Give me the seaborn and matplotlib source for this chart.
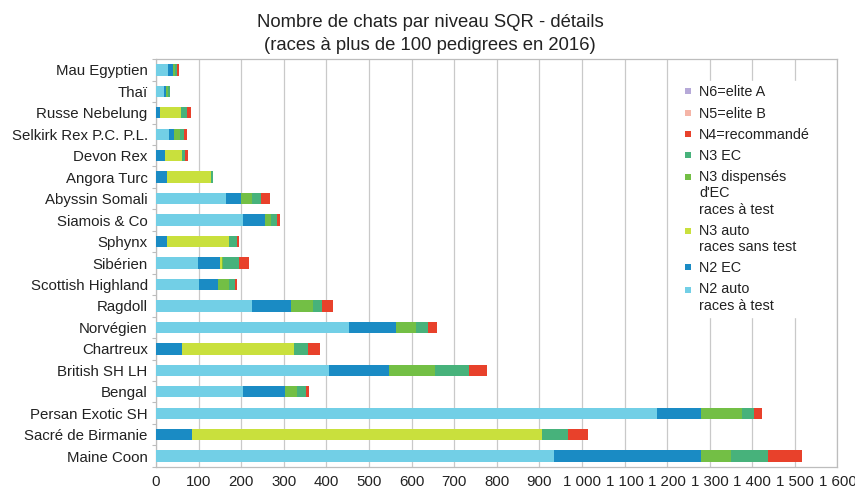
import numpy as np
import pandas as pd
import matplotlib
matplotlib.use("Agg")
import matplotlib.pyplot as plt
from matplotlib.lines import Line2D
from matplotlib.legend_handler import HandlerLine2D
from matplotlib.ticker import FuncFormatter, MultipleLocator, FixedLocator
import seaborn as sns

breeds = ["Mau Egyptien", "Thaï", "Russe Nebelung", "Selkirk Rex P.C. P.L.", "Devon Rex",
          "Angora Turc", "Abyssin Somali", "Siamois & Co", "Sphynx", "Sibérien",
          "Scottish Highland", "Ragdoll", "Norvégien", "Chartreux", "British SH LH",
          "Bengal", "Persan Exotic SH", "Sacré de Birmanie", "Maine Coon"]

n2_auto = [28, 19, 0, 30, 0, 0, 164, 204, 0, 98, 101, 225, 453, 0, 406, 204, 1176, 0, 934]
n2_ec = [12, 5, 10, 12, 21, 25, 35, 51, 25, 53, 44, 92, 110, 61, 140, 99, 103, 85, 345]
n3_auto = [0, 0, 49, 0, 40, 105, 0, 0, 146, 3, 0, 0, 0, 262, 0, 0, 0, 821, 0]
n3_disp = [5, 5, 0, 14, 0, 0, 26, 16, 0, 4, 26, 52, 48, 0, 108, 27, 97, 0, 71]
n3_ec = [4, 4, 14, 9, 7, 3, 21, 12, 18, 36, 14, 20, 27, 34, 82, 23, 28, 61, 87]
n4 = [5, 0, 10, 7, 7, 1, 21, 7, 6, 25, 5, 27, 21, 27, 42, 5, 19, 47, 79]
n5 = [0] * 19
n6 = [0] * 19

series_labels = ["N2 auto\nraces à test", "N2 EC", "N3 auto\nraces sans test",
                 "N3 dispensés\nd'EC\nraces à test", "N3 EC", "N4=recommandé",
                 "N5=elite B", "N6=elite A"]
series_values = [n2_auto, n2_ec, n3_auto, n3_disp, n3_ec, n4, n5, n6]
colors = ["#72cfe6", "#1a8bc4", "#c9e03d", "#73bf45", "#47b27b", "#e8412b", "#f5b5a7", "#b6a9d8"]

sns.set_theme(style="white")
plt.rcParams["font.family"] = ["Liberation Sans", "DejaVu Sans"]

fig = plt.figure(figsize=(8.55, 4.93), dpi=100)
ax = fig.add_axes([0.1825, 0.053, 0.797, 0.827])

cum = np.zeros(len(breeds))
cums = []
for vals in series_values:
    cum = cum + np.array(vals, dtype=float)
    cums.append(cum.copy())
for i in range(len(series_values) - 1, -1, -1):
    d = pd.DataFrame({"breed": breeds, "value": cums[i]})
    sns.barplot(data=d, x="value", y="breed", order=breeds, orient="h", color=colors[i],
                saturation=1, width=0.53, errorbar=None, linewidth=0, ax=ax, zorder=3)

ax.set_xlim(0, 1600)
ax.set_ylim(len(breeds) - 0.5, -0.5)
ax.xaxis.set_major_locator(MultipleLocator(100))
ax.xaxis.set_major_formatter(FuncFormatter(lambda v, p: f"{int(v):,}".replace(",", " ")))
ax.grid(axis="x", color="#c9c9c9", linewidth=0.9, zorder=0)
ax.grid(axis="y", visible=False)
ax.set_axisbelow(True)
ax.set_xlabel("")
ax.set_ylabel("")
for s in ax.spines.values():
    s.set_color("#bdbdbd")
    s.set_linewidth(0.9)
ax.tick_params(axis="x", labelsize=10.8, colors="#222222", length=0, pad=6)
ax.tick_params(axis="y", which="major", labelsize=10.8, colors="#222222", length=0, pad=6)
ax.yaxis.set_minor_locator(FixedLocator(np.arange(-0.5, len(breeds), 1.0)))
ax.tick_params(axis="y", which="minor", length=3, color="#bdbdbd", width=0.8, left=True)


class TopHandler(HandlerLine2D):
    def __init__(self, shift=0.0, **kw):
        super().__init__(**kw)
        self.shift = shift

    def create_artists(self, legend, orig_handle, xdescent, ydescent, width, height, fontsize, trans):
        return super().create_artists(legend, orig_handle, xdescent, ydescent - 2 * self.shift,
                                      width, height, fontsize, trans)


order = list(range(len(series_values) - 1, -1, -1))
handles = [Line2D([0], [0], marker="s", linestyle="none", markersize=5,
                  markerfacecolor=colors[i], markeredgewidth=0) for i in order]
labels = [series_labels[i] for i in order]
line_h = 10.4 * 1.16
hmap = {h: TopHandler(shift=(lab.count("\n")) * line_h / 2) for h, lab in zip(handles, labels)}
leg = ax.legend(handles, labels, loc="upper left", bbox_to_anchor=(679 / 855, 1 - 81 / 493),
                bbox_transform=fig.transFigure, frameon=True, fontsize=10.4,
                handlelength=0.6, handletextpad=0.5, labelspacing=0.5,
                borderpad=0.3, borderaxespad=0, handler_map=hmap)
leg.get_frame().set_facecolor("white")
leg.get_frame().set_edgecolor("white")
leg.get_frame().set_alpha(1)
leg.set_zorder(5)
for t in leg.get_texts():
    t.set_color("#222222")

fig.text(0.503, 1 - 34 / 493, "Nombre de chats par niveau SQR - détails\n(races à plus de 100 pedigrees en 2016)",
         ha="center", va="center", fontsize=13.3, color="#222222", linespacing=1.4)

fig.savefig("out.png", dpi=100, facecolor="white")
